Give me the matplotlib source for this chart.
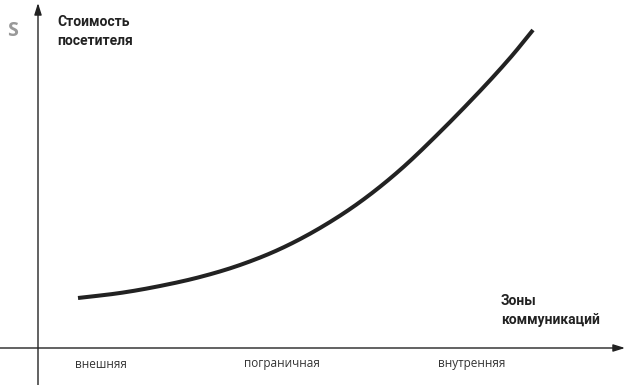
import matplotlib
matplotlib.use("Agg")
import matplotlib.pyplot as plt
import numpy as np

# кривая: расстояние от оси Y и высота над осью X
curve_x = [40, 82, 122, 162, 202, 242, 282, 322, 362, 402, 442, 472, 495]
curve_y = [50, 55, 62, 71, 83, 99, 120, 146, 178, 216, 257, 290, 318]

zones = ["внешняя", "пограничная", "внутренняя"]
zone_x = [63, 244, 434]

y_title = "Стоимость\nпосетителя"
x_title = "Зоны\nкоммуникаций"

plt.rcParams['font.family'] = ['Open Sans', 'DejaVu Sans']


def smooth(xs, ys, n=20):
    # сглаживание Catmull-Rom через точки
    p = np.column_stack([xs, ys]).astype(float)
    p = np.vstack([2 * p[0] - p[1], p, 2 * p[-1] - p[-2]])
    t = np.linspace(0, 1, n, endpoint=False)[:, None]
    out = []
    for i in range(1, len(p) - 2):
        p0, p1, p2, p3 = p[i - 1], p[i], p[i + 1], p[i + 2]
        seg = 0.5 * ((2 * p1) + (-p0 + p2) * t + (2 * p0 - 5 * p1 + 4 * p2 - p3) * t ** 2
                     + (-p0 + 3 * p1 - 3 * p2 + p3) * t ** 3)
        out.append(seg)
    out.append(p[-2][None, :])
    out = np.vstack(out)
    return out[:, 0], out[:, 1]


fig = plt.figure(figsize=(6.28, 3.85), dpi=100)
ax = fig.add_axes([0, 0, 1, 1])
ax.set_xlim(-38, 590)
ax.set_ylim(-37, 348)
ax.axis('off')

ink = '#222222'

# оси со стрелками
arrow = dict(arrowstyle='-|>,head_length=0.7,head_width=0.22', color=ink, lw=1.0,
             shrinkA=0, shrinkB=0)
ax.annotate('', xy=(0, 345), xytext=(0, -37), arrowprops=arrow)
ax.annotate('', xy=(587, 0), xytext=(-38, 0), arrowprops=arrow)

sx, sy = smooth(curve_x, curve_y)
ax.plot(sx, sy, color=ink, lw=2.9, solid_capstyle='butt')

ax.text(-25.5, 317.5, "S", color='#999999', fontsize=14, fontweight='bold',
        ha='center', va='center')
bold = dict(color=ink, fontsize=10, fontweight='bold', family=['Roboto', 'DejaVu Sans'],
            ha='left', va='top', linespacing=1.45)
ax.text(19, 333, y_title, **bold)
ax.text(463, 54, x_title, **bold)

for name, x in zip(zones, zone_x):
    ax.text(x, -16, name, color='#333333', fontsize=8.5, ha='center', va='center')

fig.savefig("out.png", dpi=100, facecolor='white')
